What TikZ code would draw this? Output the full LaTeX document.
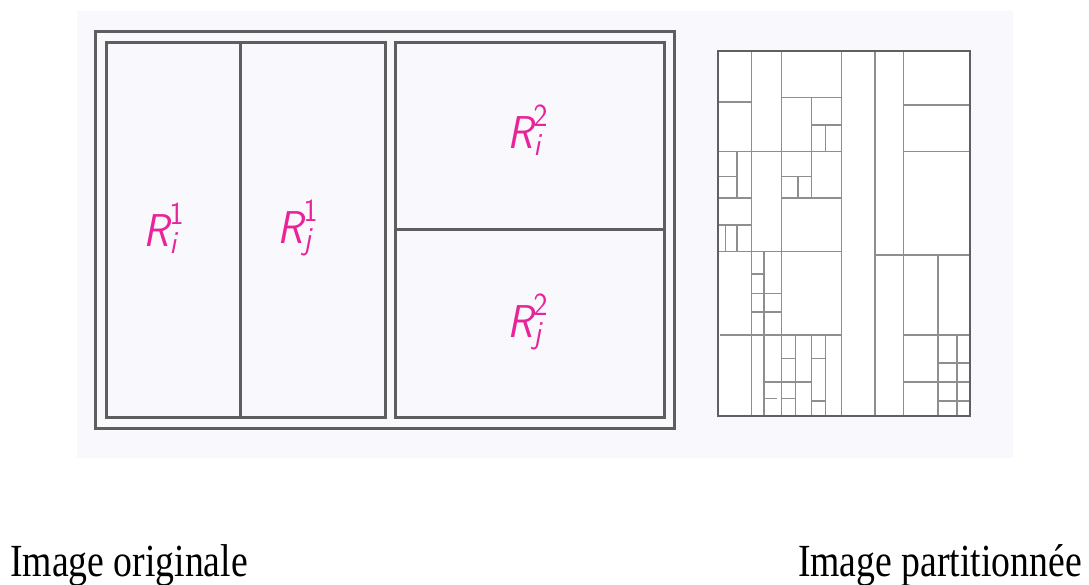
\documentclass[tikz,border=0pt]{standalone}
\usepackage{amsmath}
\usepackage{fontspec}
\newfontfamily\capfont{Liberation Serif}
\usepackage{tikz}
\definecolor{paper}{HTML}{F9F9FD}
\definecolor{frameln}{HTML}{5E5E5E}
\definecolor{gridln}{HTML}{8E8E8E}
\definecolor{gridbd}{HTML}{606060}
\definecolor{regpink}{HTML}{E8249A}
\newcommand{\region}[4]{%
  \node[regpink,font=\sffamily\fontsize{46}{46}\selectfont,xscale=0.92] (#1) at #2 {$\textit{R}^{\textup{#4}}_{\textit{#3}}$};
}
\newcommand{\hcut}[3]{\draw[gridln,line width=1.6pt] (#2,#1) -- (#3,#1);}
\newcommand{\vcut}[3]{\draw[gridln,line width=1.6pt] (#1,#2) -- (#1,#3);}

\begin{document}
\begin{tikzpicture}[x=1pt,y=-1pt]
    \useasboundingbox (0,0) rectangle (1089,585);
    \fill[paper] (77,11) rectangle (1013,458);
    % original image
    \draw[frameln,line width=3pt] (95,32) rectangle (674,428);
    \draw[frameln,line width=3pt] (106,43) rectangle (385,417);
    \draw[frameln,line width=3pt] (395,43) rectangle (664,417);
    \draw[frameln,line width=3pt] (240.5,43) -- (240.5,417);
    \draw[frameln,line width=3pt] (395,230) -- (664,230);
    \region{ri1}{(164,228)}{i}{1}
    \region{rj1}{(298,228)}{j}{1}
    \region{ri2}{(528,130)}{i}{2}
    \region{rj2}{(528,322)}{j}{2}
    % partitioned image
    \fill[white] (718,51) rectangle (970,416);
    \foreach \x in {751.3,781.3,841.3,875,903.3} {\vcut{\x}{51}{416}}
    \hcut{102}{718}{751.3}
    \hcut{97.5}{781.3}{841.3}
    \hcut{125}{811.3}{841.3}
    \hcut{151.7}{718}{841.3}
    \hcut{176.7}{718}{737}
    \hcut{198.3}{718}{751.3}
    \hcut{198.3}{781.3}{841.3}
    \hcut{176.7}{781.3}{811.3}
    \hcut{225}{718}{751.3}
    \hcut{251.7}{718}{841.3}
    \hcut{274.3}{751.3}{763.7}
    \hcut{293.3}{751.3}{781.3}
    \hcut{311.7}{751.3}{781.3}
    \hcut{335}{720}{841.3}
    \hcut{358.3}{781.3}{795.3}
    \hcut{358.3}{811.3}{825.3}
    \hcut{381.7}{763.7}{811.3}
    \hcut{398.3}{763.7}{777}
    \hcut{398.3}{781.3}{795.3}
    \hcut{400.7}{811.3}{825.3}
    \hcut{105}{903.3}{970}
    \hcut{151.7}{903.3}{970}
    \hcut{255}{875}{970}
    \hcut{335}{903.3}{970}
    \hcut{362.7}{937.7}{970}
    \hcut{381.7}{903.3}{970}
    \hcut{400.7}{937.7}{970}
    \vcut{811.3}{97.5}{198.3}
    \vcut{825.3}{125}{151.7}
    \vcut{737}{151.7}{198.3}
    \vcut{798}{176.7}{198.3}
    \vcut{725.3}{225}{251.7}
    \vcut{737}{225}{251.7}
    \vcut{763.7}{251.7}{416}
    \vcut{795.3}{335}{416}
    \vcut{811.3}{335}{416}
    \vcut{825.3}{335}{416}
    \vcut{937.7}{255}{416}
    \vcut{956.7}{335}{416}
    \draw[gridbd,line width=2.4pt] (718,51) rectangle (970,416);
    % captions
    \node[anchor=base west,font=\capfont\fontsize{46}{46}\selectfont,inner sep=0pt,xscale=0.82] (orig) at (10,576) {Image originale};
    \node[anchor=base east,font=\capfont\fontsize{46}{46}\selectfont,inner sep=0pt,xscale=0.82] (part) at (1082,576) {Image partitionnée};
  \end{tikzpicture}
\end{document}
